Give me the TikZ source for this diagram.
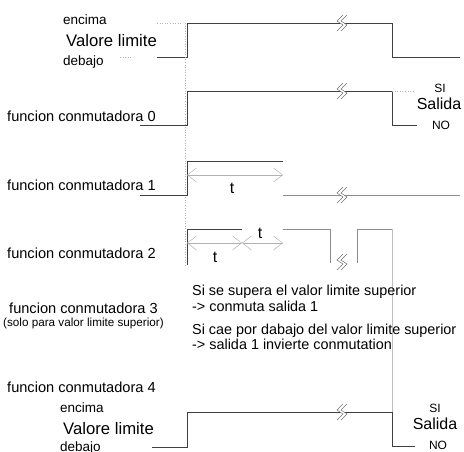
\documentclass[tikz,border=0pt]{standalone}
\usepackage{fontspec}
\setmainfont{Liberation Sans}
\usetikzlibrary{arrows.meta}
\begin{document}
\begin{tikzpicture}[x=1pt,y=-1pt,
  sig/.style={draw=black!75,line width=0.75pt},
  sigl/.style={draw=black!45,line width=0.6pt},
  dots/.style={draw=black!30,dotted,line width=0.6pt},
  tarr/.style={draw=black!30,line width=0.5pt,{Straight Barb[length=9pt,width=14pt]}-{Straight Barb[length=9pt,width=14pt]}},
  lbl/.style={anchor=base west,inner sep=0pt,font=\fontsize{14.6}{16}\selectfont},
  small/.style={anchor=base west,inner sep=0pt,font=\fontsize{13.5}{15}\selectfont},
  big/.style={anchor=base west,inner sep=0pt,font=\fontsize{16.7}{18}\selectfont},
  tiny/.style={anchor=base west,inner sep=0pt,font=\fontsize{11.7}{13}\selectfont},
  body/.style={anchor=base west,inner sep=0pt,font=\fontsize{14.4}{16}\selectfont},
  tlab/.style={inner sep=0pt,font=\fontsize{16}{18}\selectfont},
  si/.style={inner sep=0pt,font=\fontsize{12}{13}\selectfont},
  sal/.style={inner sep=0pt,font=\fontsize{16}{18}\selectfont},
  brk/.pic={
    \fill[white] (1,-8) -- (-5,-2) -- (1,2) -- (-5,8) -- (-1,8) -- (5,2) -- (-1,-2) -- (5,-8) -- cycle;
    \draw[black!55,line width=0.5pt] (1,-8) -- (-5,-2) -- (1,2) -- (-5,8);
    \draw[black!55,line width=0.5pt] (5,-8) -- (-1,-2) -- (5,2) -- (-1,8);
  }]
\useasboundingbox (0,0) rectangle (464,451);

% ---------- top: Valore limite ----------
\node[small] (enc1) at (63,24) {encima};
\node[big] (val1) at (66,46) {Valore limite};
\node[small] (deb1) at (63,65) {debajo};
\draw[dots] (157,23) -- (183,23);
\draw[dots] (120,57) -- (133,57);
\draw[sig] (157,57) -- (187,57) -- (187,23) -- (392,23) -- (392,57) -- (460,57);
\pic at (342,23) {brk};

% guide line
\draw[dots] (185.5,23) -- (185.5,265);

% ---------- funcion 0 ----------
\node[lbl] (f0) at (7,121) {funcion conmutadora 0};
\draw[sig] (140,125) -- (187,125) -- (187,91) -- (392,91) -- (392,125) -- (417,125);
\draw[dots] (392,91) -- (413,91);
\pic at (342,91) {brk};
\node[si] (si0) at (440,88) {SI};
\node[sal] (sal0) at (439,104) {Salida};
\node[si] (no0) at (441,125) {NO};

% ---------- funcion 1 ----------
\node[lbl] (f1) at (7,190) {funcion conmutadora 1};
\draw[sig] (140,195) -- (187,195) -- (187,161) -- (283,161);
\draw[sigl] (283,195) -- (460,195);
\pic at (342,195) {brk};
\draw[tarr] (187,175) -- (283,175);
\node[tlab] (t1) at (232,188) {t};

% ---------- funcion 2 ----------
\node[lbl] (f2) at (7,258) {funcion conmutadora 2};
\draw[sig] (187,265) -- (187,229) -- (242,229);
\draw[sigl] (283,229) -- (330,229) -- (330,263);
\pic at (342,262) {brk};
\draw[sigl] (357,263) -- (357,229) -- (392,229);
\draw[draw=black!25,line width=0.5pt] (392,229) -- (392,412);
\draw[tarr] (187,243) -- (242,243);
\draw[tarr] (242,243) -- (283,243);
\node[tlab] (t2) at (215,257) {t};
\node[tlab] (t3) at (260,233) {t};

% ---------- funcion 3 ----------
\node[lbl] (f3) at (9,313) {funcion conmutadora 3};
\node[tiny] (f3s) at (3,326) {(solo para valor limite superior)};
\node[body] (b1) at (192,295) {Si se supera el valor limite superior};
\node[body] (b2) at (192,311) {-> conmuta salida 1};
\node[body] (b3) at (192,334) {Si cae por dabajo del valor limite superior};
\node[body] (b4) at (192,349) {-> salida 1 invierte conmutation};

% ---------- funcion 4 ----------
\node[lbl] (f4) at (7,392) {funcion conmutadora 4};
\node[small] (enc2) at (60,412) {encima};
\node[big] (val2) at (63,434) {Valore limite};
\node[small] (deb2) at (60,451) {debajo};
\draw[sig] (152,447) -- (187,447) -- (187,412) -- (392,412) -- (392,446) -- (415,446);
\pic at (342,412) {brk};
\node[si] (si4) at (435,408) {SI};
\node[sal] (sal4) at (435,424) {Salida};
\node[si] (no4) at (438,445) {NO};
\end{tikzpicture}
\end{document}
